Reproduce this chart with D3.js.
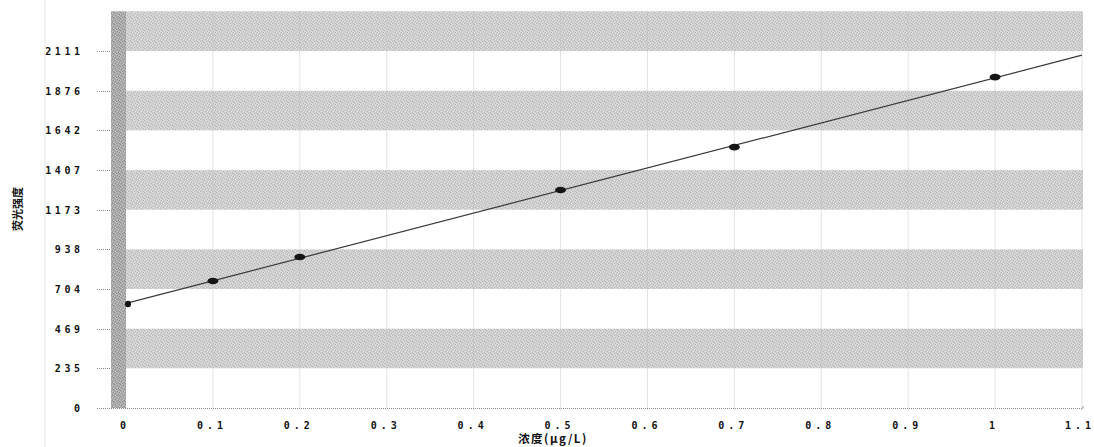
<!DOCTYPE html>
<html>
<head>
<meta charset="utf-8">
<script src="https://cdn.jsdelivr.net/npm/d3@7"></script>
<style>
  html, body { margin: 0; padding: 0; background: #fff; }
  svg { display: block; }
  .tick-label { font-family: "DejaVu Sans Mono", monospace; font-weight: bold; font-size: 10px; fill: #111; }
  .title { font-family: "Noto Sans CJK SC", "DejaVu Sans", sans-serif; font-weight: bold; fill: #111; }
</style>
</head>
<body>
<svg id="chart" width="1094" height="447"></svg>
<script>
// Calibration standards: concentration (µg/L) and measured fluorescence intensity
const concentrations = [0, 0.1, 0.2, 0.5, 0.7, 1.0];
const intensities = [615, 751, 893, 1289, 1543, 1957];

// Axis tick labels
const yTickLabels = [0, 235, 469, 704, 938, 1173, 1407, 1642, 1876, 2111];
const yMax = 2346;
const xTickLabels = [0, 0.1, 0.2, 0.3, 0.4, 0.5, 0.6, 0.7, 0.8, 0.9, 1, 1.1];
const xMax = 1.1;

const xTitle = "浓度(μg/L)";
const yTitle = "荧光强度";

const svg = d3.select("#chart");

// Plot geometry
const wallLeft = 111, plotLeft = 126, plotRight = 1083, plotTop = 11.3, plotBottom = 408;

const x = d3.scaleLinear().domain([0, xMax]).range([plotLeft, plotRight - 1]);
const y = d3.scaleLinear().domain([0, yMax]).range([plotBottom, plotTop]);

// Grainy fills for the shaded bands and the left wall
const defs = svg.append("defs");
function grain(id, base, dark, light) {
  const p = defs.append("pattern").attr("id", id)
    .attr("width", 6).attr("height", 6).attr("patternUnits", "userSpaceOnUse");
  p.append("rect").attr("width", 6).attr("height", 6).attr("fill", base);
  [[0,0],[3,1],[5,2],[1,3],[4,4],[2,5],[5,5]].forEach(([a,b]) =>
    p.append("rect").attr("x", a).attr("y", b).attr("width", 1).attr("height", 1).attr("fill", dark));
  [[2,0],[0,2],[4,1],[3,3],[1,5],[5,4]].forEach(([a,b]) =>
    p.append("rect").attr("x", a).attr("y", b).attr("width", 1).attr("height", 1).attr("fill", light));
}
grain("bandFill", "#cfcfcf", "#b8b8b8", "#e3e3e3");
grain("wallFill", "#ababab", "#8f8f8f", "#c6c6c6");

// Faint scan border on the left
svg.append("line").attr("x1", 45).attr("x2", 45).attr("y1", 0).attr("y2", 447)
  .attr("stroke", "#e2e2e2").attr("stroke-width", 1);

// Alternating shaded bands between every other pair of y ticks
const bandEdges = yTickLabels.concat([yMax]);
const bands = [];
for (let i = 1; i < yTickLabels.length; i += 2) bands.push([bandEdges[i], bandEdges[i + 1]]);
svg.append("g").selectAll("rect").data(bands).join("rect")
  .attr("x", plotLeft).attr("width", plotRight - plotLeft)
  .attr("y", d => y(d[1])).attr("height", d => y(d[0]) - y(d[1]))
  .attr("fill", "url(#bandFill)");

// Left wall strip
svg.append("rect").attr("x", wallLeft).attr("width", plotLeft - wallLeft)
  .attr("y", plotTop).attr("height", plotBottom - plotTop)
  .attr("fill", "url(#wallFill)");

// Vertical dotted gridlines
svg.append("g").selectAll("line").data(xTickLabels.slice(1)).join("line")
  .attr("x1", d => x(d)).attr("x2", d => x(d))
  .attr("y1", plotTop).attr("y2", plotBottom + 3)
  .attr("stroke", "#bdbdbd").attr("stroke-width", 1).attr("stroke-dasharray", "1,1")
  .attr("opacity", 0.8);

// Y tick marks (dotted stubs left of the wall)
svg.append("g").selectAll("line").data(yTickLabels).join("line")
  .attr("x1", 97).attr("x2", wallLeft)
  .attr("y1", d => Math.round(y(d)) + 0.5).attr("y2", d => Math.round(y(d)) + 0.5)
  .attr("stroke", "#8a8a8a").attr("stroke-dasharray", "1,1");

// X axis baseline
svg.append("line").attr("x1", 97).attr("x2", plotRight)
  .attr("y1", plotBottom + 0.5).attr("y2", plotBottom + 0.5)
  .attr("stroke", "#8a8a8a").attr("stroke-dasharray", "1,1");
svg.append("line").attr("x1", plotRight).attr("x2", plotRight)
  .attr("y1", plotBottom - 2).attr("y2", plotBottom + 0.5)
  .attr("stroke", "#9a9a9a");

// Spaced-out characters, centred on the given x
function spaced(sel, gap) {
  sel.each(function(d) {
    const t = d3.select(this);
    const chars = String(d).split("");
    const cw = 6.02 + gap;
    const w = chars.length * cw - gap;
    const x0 = +t.attr("data-cx") - w / 2;
    t.selectAll("tspan").data(chars).join("tspan")
      .attr("x", (c, i) => x0 + i * cw)
      .text(c => c);
  });
}

// Tick labels
svg.append("g").selectAll("text").data(yTickLabels).join("text")
  .attr("class", "tick-label")
  .attr("data-cx", d => 80 - (String(d).length * 9.6 - 3.6) / 2)
  .attr("y", d => y(d) + 4)
  .call(spaced, 3.6);

svg.append("g").selectAll("text").data(xTickLabels).join("text")
  .attr("class", "tick-label")
  .attr("data-cx", d => Math.min(x(d) - 3, 1078))
  .attr("y", 429)
  .call(spaced, 4);

// Axis titles
svg.append("text").attr("class", "title")
  .attr("x", 553).attr("y", 443).attr("text-anchor", "middle")
  .attr("font-size", 11.5).attr("letter-spacing", 1.5)
  .text(xTitle);
svg.append("text").attr("class", "title")
  .attr("transform", "translate(22,209) rotate(-90)")
  .attr("text-anchor", "middle").attr("font-size", 11)
  .text(yTitle);

// Least-squares calibration line across the full x range
const mx = d3.mean(concentrations), my = d3.mean(intensities);
const sxy = d3.sum(concentrations, (c, i) => (c - mx) * (intensities[i] - my));
const sxx = d3.sum(concentrations, c => (c - mx) ** 2);
const slope = sxy / sxx, intercept = my - slope * mx;
const fit = [0, xMax].map(c => [c, intercept + slope * c]);
svg.append("path").datum(fit)
  .attr("d", d3.line().x(d => x(d[0])).y(d => y(d[1])))
  .attr("fill", "none").attr("stroke", "#3a3a3a").attr("stroke-width", 1.2);

// Measured points
svg.append("g").selectAll("ellipse").data(concentrations.map((c, i) => [c, intensities[i]])).join("ellipse")
  .attr("cx", d => x(d[0]) + (d[0] === 0 ? 2 : 0)).attr("cy", d => y(d[1]))
  .attr("rx", d => d[0] === 0 ? 3 : 5.5).attr("ry", 3.3)
  .attr("fill", "#151515");
</script>
</body>
</html>
